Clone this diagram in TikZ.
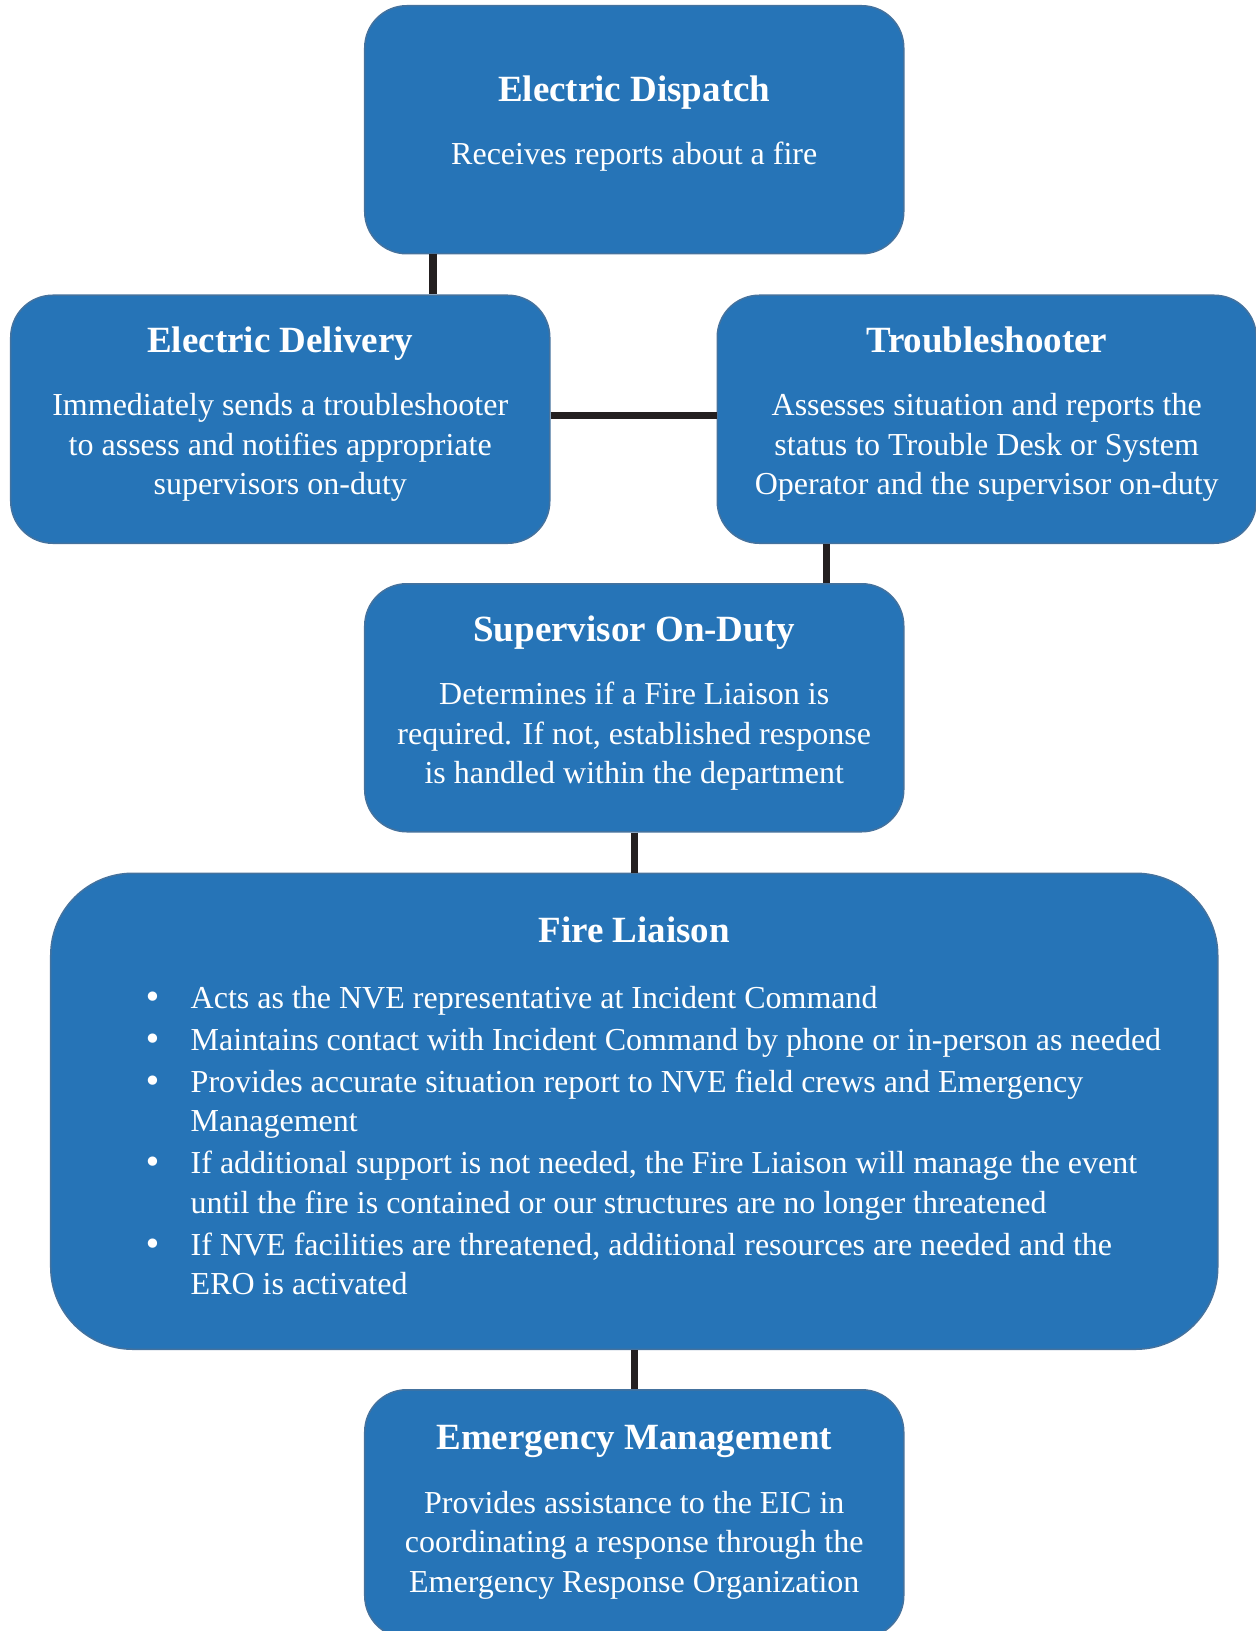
\documentclass[tikz,border=0pt]{standalone}
\usepackage{fontspec}
\setmainfont{Liberation Serif}
\newfontfamily\dotfont{DejaVu Sans}
\usepackage{tikz}
\usetikzlibrary{positioning}

\definecolor{cardblue}{RGB}{38,116,183}
\definecolor{cardline}{RGB}{68,114,158}
\definecolor{linkgray}{RGB}{35,31,32}

\newcommand{\headfont}{\fontsize{18.5}{22}\selectfont\bfseries}
\newcommand{\bodyfont}{\fontsize{16}{19.75}\selectfont}
% card contents: depth of title baseline, title, body
\newcommand{\cardtext}[3]{%
  \begin{minipage}[c][124pt][t]{269.5pt}\centering
    {\headfont\rule{0pt}{#1}#2\par}
    \vspace{12pt}{\bodyfont #3\par}
  \end{minipage}}
\newcommand{\fitem}[1]{\par\noindent\hangindent=70pt\hangafter=1
  \hspace*{46.5pt}\makebox[23.5pt][l]{\dotfont •}#1}

\begin{document}
\begin{tikzpicture}[
  card/.style={rectangle, rounded corners=21pt, draw=cardline,
    line width=0.75pt, fill=cardblue, text=white, inner sep=0pt},
  link/.style={draw=linkgray, line width=3.75pt}
]
  \node[card] (dispatch)
    {\cardtext{47.75pt}{Electric Dispatch}{Receives reports about a fire}};

  %% second row
  \node[card, below=20pt of dispatch, xshift=-177pt] (delivery)
    {\cardtext{28.5pt}{Electric Delivery}{Immediately sends a troubleshooter\\
      to assess and notifies appropriate\\supervisors on-duty}};
  \node[card, right=83pt of delivery] (trouble)
    {\cardtext{28.5pt}{Troubleshooter}{Assesses situation and reports the\\
      status to Trouble Desk or System\\Operator and the supervisor on-duty}};

  \node[card, below=19.5pt of delivery, xshift=177pt] (supervisor)
    {\cardtext{28.8pt}{Supervisor On-Duty}{Determines if a Fire Liaison is\\
      required. If not, established response\\is handled within the department}};

  \node[card, rounded corners=41pt, below=20pt of supervisor] (fire) {%
    \begin{minipage}[c][238pt][t]{583.5pt}
      {\centering\headfont\rule{0pt}{34.5pt}Fire Liaison\par}
      \vspace{12pt}\raggedright\bodyfont\setlength{\parskip}{1.25pt}
      \fitem{Acts as the NVE representative at Incident Command}
      \fitem{Maintains contact with Incident Command by phone or in-person as needed}
      \fitem{Provides accurate situation report to NVE field crews and Emergency\newline
        Management}
      \fitem{If additional support is not needed, the Fire Liaison will manage the event\newline
        until the fire is contained or our structures are no longer threatened}
      \fitem{If NVE facilities are threatened, additional resources are needed and the\newline
        ERO is activated}\par
    \end{minipage}};

  \node[card, below=19.5pt of fire] (emergency)
    {\cardtext{30pt}{Emergency Management}{Provides assistance to the EIC in\\
      coordinating a response through the\\Emergency Response Organization}};

  \draw[link] ([xshift=34.5pt]dispatch.south west)
    -- ([xshift=34.5pt]dispatch.south west |- delivery.north);
  \draw[link] ([yshift=2pt]delivery.east) -- ([yshift=2pt]trouble.west);
  \draw[link] ([xshift=55pt]trouble.south west)
    -- ([xshift=55pt]trouble.south west |- supervisor.north);
  \draw[link] (supervisor.south) -- (fire.north);
  \draw[link] (fire.south) -- (emergency.north);

  \pgfresetboundingbox
  \useasboundingbox ([shift={(-182pt,2.5pt)}]dispatch.north west)
    rectangle ++(628pt,-815.5pt);
\end{tikzpicture}
\end{document}
